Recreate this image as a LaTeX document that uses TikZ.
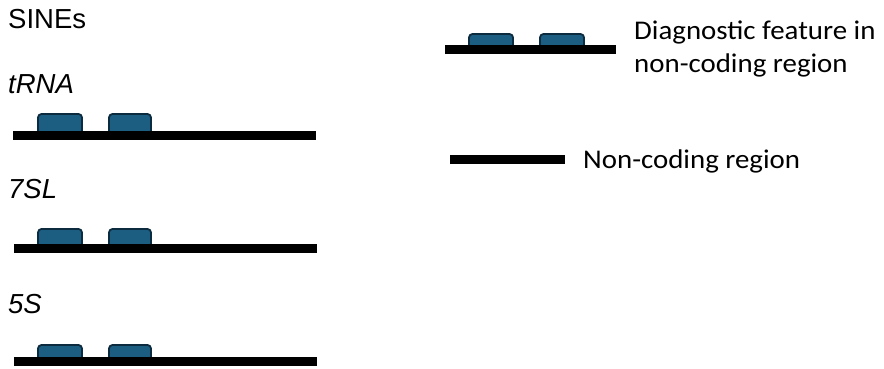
\documentclass[tikz,border=0pt]{standalone}
\usepackage{fontspec}
\setmainfont{Liberation Sans}
\newfontfamily\legendfont[FakeStretch=1.07]{Carlito}
\definecolor{featfill}{HTML}{1B5E82}
\definecolor{featline}{HTML}{0D2B3E}
\begin{document}
\begin{tikzpicture}[x=1pt,y=-1pt,
  bar/.style={fill=black,draw=none},
  feat/.style={fill=featfill,draw=featline,line width=1.8pt,rounded corners=3.5pt},
  lbl/.style={anchor=base west,inner sep=0pt,font=\fontsize{27.5}{33}\selectfont},
  leg/.style={anchor=base west,inner sep=0pt,font=\legendfont\fontsize{27}{33}\selectfont,align=left}]
\useasboundingbox (0,0) rectangle (884,368);
\node[lbl] (sines) at (8,28) {SINEs};
\node[lbl] (trna) at (8,93) {\itshape tRNA};
\node[lbl] (sevsl) at (8,198) {\itshape 7SL};
\node[lbl] (fives) at (8,313) {\itshape 5S};
% row 1
\draw[feat] (38,114) rectangle (82,134);
\draw[feat] (109,114) rectangle (151,134);
\fill[bar] (13,131) rectangle (316,140);
% row 2
\draw[feat] (38,229) rectangle (82,247);
\draw[feat] (109,229) rectangle (151,247);
\fill[bar] (14,244) rectangle (317,253);
% row 3
\draw[feat] (38,345) rectangle (82,360);
\draw[feat] (109,345) rectangle (151,360);
\fill[bar] (14,357) rectangle (317,366);
% legend
\draw[feat] (469,34) rectangle (513,48);
\draw[feat] (540,34) rectangle (584,48);
\fill[bar] (445,45) rectangle (616,54);
\fill[bar] (450,155) rectangle (565,164);
\node[leg] (diag) at (634,39) {Diagnostic feature in};
\node[leg] (ncr) at (634,72) {non-coding region};
\node[leg] (nc) at (583,168) {Non-coding region};
\end{tikzpicture}
\end{document}
